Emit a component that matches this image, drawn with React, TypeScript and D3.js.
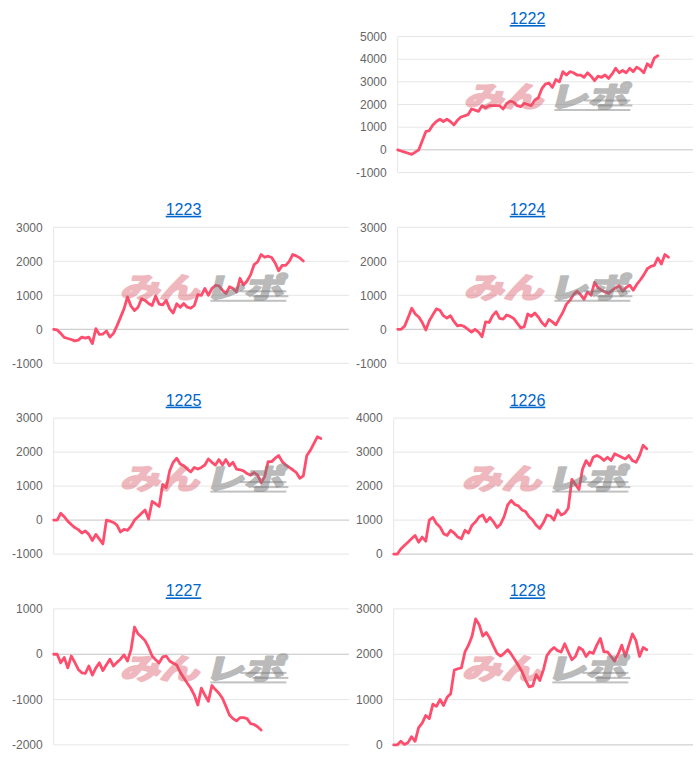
import React from "react";
import * as d3 from "d3";

const titles = ["1222", "1223", "1224", "1225", "1226", "1227", "1228"];

const s1222 = [
  0, -50, -100, -150, -200, -100, 0, 400, 800, 850,
  1100, 1250, 1350, 1250, 1350, 1250, 1100, 1300, 1450, 1500,
  1550, 1800, 1750, 1700, 1950, 1850, 1950, 1950, 1950, 1950,
  1800, 2050, 2150, 2100, 1950, 1900, 2050, 2000, 1950, 2200,
  2300, 2700, 2900, 2950, 2750, 3100, 3000, 3450, 3300, 3450,
  3400, 3300, 3300, 3200, 3400, 3250, 3050, 3250, 3200, 3300,
  3150, 3350, 3600, 3400, 3500, 3400, 3600, 3450, 3650, 3550,
  3400, 3800, 3650, 4050, 4150,
];

const s1223 = [
  0, -20, -120, -240, -270, -300, -340, -320, -230, -260,
  -230, -420, 20, -150, -140, -50, -230, -120, 100, 350,
  600, 950, 680, 550, 650, 900, 850, 760, 700, 980,
  740, 720, 850, 600, 480, 750, 650, 760, 650, 620,
  700, 1020, 1000, 1200, 1000, 1200, 1290, 1280, 1150, 1050,
  1250, 1200, 1100, 1500, 1300, 1420, 1600, 1900, 1980, 2200,
  2120, 2150, 2110, 1950, 1720, 1880, 1880, 2000, 2200, 2160,
  2100, 2010,
];

const s1224 = [
  0, 0, 100, 350, 620, 450, 360, 200, -20, 250,
  430, 600, 560, 400, 330, 400, 230, 100, 120, 80,
  0, -80, 0, -80, -220, 220, 200, 400, 520, 320,
  300, 420, 380, 320, 180, 40, 80, 450, 380, 480,
  360, 200, 100, 290, 220, 130, 320, 500, 740, 850,
  1020, 1120, 1020, 880, 1100, 1000, 1380, 1220, 1150, 1100,
  1050, 1150, 1220, 1280, 1120, 1230, 1300, 1150, 1320, 1450,
  1600, 1780, 1850, 1880, 2100, 1920, 2200, 2120,
];

const s1225 = [
  0, 0, 200, 100, -30, -130, -220, -280, -380, -320,
  -420, -600, -420, -560, -700, 0, -30, -70, -150, -350,
  -270, -300, -180, 0, 100, 200, 300, 30, 550, 480,
  400, 1050, 950, 1450, 1700, 1820, 1650, 1600, 1500, 1420,
  1550, 1500, 1550, 1620, 1800, 1700, 1620, 1780, 1620, 1780,
  1600, 1700, 1500, 1480, 1450, 1370, 1320, 1400, 1320, 1100,
  1280, 1720, 1720, 1820, 1900, 1720, 1620, 1550, 1480, 1400,
  1230, 1300, 1900, 2050, 2250, 2450, 2400,
];

const s1226 = [
  0, 0, 150, 250, 350, 450, 550, 350, 500, 380,
  1000, 1080, 900, 800, 600, 550, 700, 620, 500, 450,
  700, 620, 850, 950, 1100, 1150, 950, 1080, 950, 780,
  880, 1100, 1450, 1580, 1460, 1420, 1300, 1250, 1100, 1000,
  850, 750, 920, 1150, 1120, 1000, 1300, 1150, 1200, 1350,
  2200, 2050, 1900, 2500, 2750, 2600, 2850, 2900, 2850, 2750,
  2850, 2750, 2950, 2900, 2850, 2800, 2900, 2750, 2700, 2900,
  3200, 3100,
];

const s1227 = [
  0, 0, -190, -70, -300, -40, -180, -335, -410, -425,
  -260, -460, -300, -190, -360, -230, -110, -260, -180, -110,
  -15, -150, 100, 600, 450, 380, 300, 150, -40, -120,
  -190, -60, -40, -150, -200, -240, -400, -520, -640, -750,
  -900, -1120, -750, -900, -1040, -690, -780, -860, -970, -1150,
  -1340, -1420, -1470, -1400, -1400, -1420, -1530, -1550, -1600, -1670,
];

const s1228 = [
  0, 0, 80, 10, 50, 180, 80, 380, 480, 650,
  580, 900, 850, 1000, 870, 1050, 1130, 1650, 1680, 1700,
  2050, 2200, 2400, 2780, 2650, 2400, 2480, 2350, 2180, 2020,
  1960, 2020, 2100, 2000, 1880, 1750, 1620, 1430, 1280, 1300,
  1550, 1420, 1650, 1970, 2080, 2150, 2080, 2050, 2230, 2050,
  1880, 1950, 2150, 2100, 1950, 2050, 2020, 2200, 2350, 2050,
  2050, 1950, 1850, 2000, 2200, 1950, 2200, 2450, 2300, 1950,
  2150, 2100,
];

const seriesList = [s1222, s1223, s1224, s1225, s1226, s1227, s1228];
const yMins = [-1000, -1000, -1000, -1000, 0, -2000, 0];
const yMaxs = [5000, 3000, 3000, 3000, 4000, 1000, 3000];
const TICK_STEP = 1000;
const SLOTS = 85;

// layout (column, row) of each panel
const cells: [number, number][] = [
  [1, 0], [0, 1], [1, 1], [0, 2], [1, 2], [0, 3], [1, 3],
];
const COL_LEFT = [12, 356];
const ROW_TOP = 36.5;
const ROW_STEP = 190.8;
const PLOT_H = 136;
const COL_W = 337;

const LINE_COLOR = "#ff4d6d";
const FONT = "'Liberation Sans', Arial, Helvetica, sans-serif";
const CJK = "'Noto Sans CJK JP', sans-serif";

function labelWidth(t: number) {
  const s = String(Math.abs(t));
  return s.length * 6.67 + (t < 0 ? 4 : 0);
}

function Watermark({ cx, cy }: { cx: number; cy: number }) {
  const bars = [
    { x: 36, y: 3, w: 46 },
    { x: 48, y: 8, w: 36 },
    { x: 6, y: 12.5, w: 76 },
  ];
  return (
    <g transform={`translate(${cx},${cy})`} pointerEvents="none">
      <g transform="skewX(-14) scale(1.32,0.95)">
        <g opacity={0.4}>
          <text
            x={-62}
            y={11}
            fontFamily={CJK}
            fontWeight={700}
            fontSize={30}
            fill="#d9505f"
            stroke="#d9505f"
            strokeWidth={2.4}
            strokeLinejoin="round"
          >
            みん
          </text>
        </g>
        <g opacity={0.5}>
          <text
            x={2}
            y={11}
            fontFamily={CJK}
            fontWeight={700}
            fontSize={30}
            fill="#777"
            stroke="#777"
            strokeWidth={2.4}
            strokeLinejoin="round"
          >
            レポ
          </text>
        </g>
      </g>
      <g opacity={0.45}>
        {bars.map((b, k) => (
          <rect key={k} x={b.x} y={b.y} width={b.w} height={2} fill="#777" />
        ))}
      </g>
    </g>
  );
}

function Panel({ i }: { i: number }) {
  const [c, r] = cells[i];
  const colLeft = COL_LEFT[c];
  const ticks = d3.range(yMins[i], yMaxs[i] + 1, TICK_STEP);
  const maxW = d3.max(ticks, (t) => labelWidth(t)) as number;
  const x0 = colLeft + maxW + 11;
  const x1 = colLeft + COL_W;
  const top = ROW_TOP + ROW_STEP * r;
  const bottom = top + PLOT_H;
  const x = d3.scaleLinear().domain([0, SLOTS - 1]).range([x0, x1]);
  const y = d3.scaleLinear().domain([yMins[i], yMaxs[i]]).range([bottom, top]);
  const line = d3
    .line<number>()
    .x((_, k) => x(k))
    .y((d) => y(d));
  const data = seriesList[i];
  const titleX = colLeft + 171.5;
  return (
    <g>
      <text
        x={titleX}
        y={top - 12.5}
        textAnchor="middle"
        fontFamily={FONT}
        fontSize={16}
        fill="#0066cc"
        style={{ textDecoration: "underline" }}
      >
        {titles[i]}
      </text>
      {ticks.map((t) => (
        <g key={t}>
          <line
            x1={x0}
            x2={x1}
            y1={y(t)}
            y2={y(t)}
            stroke={t === 0 ? "#c4c4c4" : "#e6e6e6"}
            strokeWidth={1}
          />
          <text
            x={x0 - 11}
            y={y(t)}
            dy="0.35em"
            textAnchor="end"
            fontFamily={FONT}
            fontSize={12}
            fill="#666"
          >
            {t}
          </text>
        </g>
      ))}
      <line x1={x0} x2={x0} y1={top} y2={bottom} stroke="#e6e6e6" strokeWidth={1} />
      <path
        d={line(data) || ""}
        fill="none"
        stroke={LINE_COLOR}
        strokeWidth={2.8}
        strokeLinejoin="round"
        strokeLinecap="round"
      />
      <Watermark cx={(x0 + x1) / 2 + 3} cy={(top + bottom) / 2 - 8} />
    </g>
  );
}

export default function App() {
  return (
    <svg
      width={700}
      height={760}
      style={{ position: "absolute", left: 0, top: 0, background: "#fff" }}
    >
      {seriesList.map((_, i) => (
        <Panel key={i} i={i} />
      ))}
    </svg>
  );
}
